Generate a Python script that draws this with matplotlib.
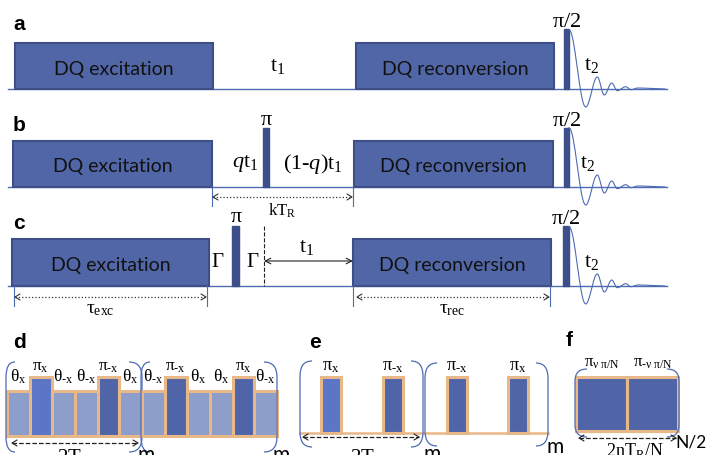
import matplotlib

matplotlib.use("Agg")
import matplotlib.pyplot as plt
import numpy as np
from matplotlib.patches import Rectangle, PathPatch
from matplotlib.path import Path

plt.rcParams["mathtext.fontset"] = "custom"
plt.rcParams["mathtext.rm"] = "Liberation Serif"
plt.rcParams["mathtext.it"] = "Liberation Serif:italic"
plt.rcParams["mathtext.bf"] = "Liberation Serif:bold"

BOX = "#5166a6"
BOX_EDGE = "#3d4f86"
PULSE = "#3c4f8c"
LINE = "#4d6bb3"
ORANGE = "#e8b888"
THETA = "#8c9ec9"
PI_X = "#5b76c6"
PI_MX = "#5065a8"

SANS = "Lato"

# rows a-c: baseline, block top, pulse top
row_names = ["a", "b", "c"]
row_base = [90, 188, 287]
row_top = [44, 142, 240]
row_pulse_top = [30, 129, 227]
exc_span = [(15, 213), (13, 212), (12, 209)]
rec_span = [(356, 554), (354, 553), (353, 551)]
read_span = [(564, 569), (564, 569), (563, 569)]
block_names = ["DQ excitation", "DQ reconversion"]

# FID extrema, offset from the read pulse edge / baseline
fid_dx = [0, 16.7, 28.3, 35.3, 42.7, 48.3, 56.7, 62, 69, 96]
fid_dy = [59.3, -18, 12, -6, 6, -1.7, 2.3, -0.7, 1, 0]

# panel d: two halves of the supercycle, (flip angle, phase)
d_halves = [
    [("θ", "x"), ("π", "x"), ("θ", "-x"), ("θ", "-x"), ("π", "-x"), ("θ", "x")],
    [("θ", "-x"), ("π", "-x"), ("θ", "x"), ("θ", "x"), ("π", "x"), ("θ", "-x")],
]
# panel e: pi-pulse trains
e_pulses = ["x", "-x", "-x", "x"]
# panel f: phase-shifted pi pulses
f_phases = [r"\nu\ \pi/N", r"\text{-}\nu\ \pi/N"]


def serif(ax, x, y, s, size=15, **kw):
    ax.text(x, y, s, fontsize=size, ha="center", va="center", **kw)


def phase_tex(sym, ph):
    ph = ph.replace("-", r"\text{-}")
    return r"$\mathrm{%s_{%s}}$" % (sym, ph)


def chevron(ax, x, y, direction, color, size=5, lw=0.8):
    ax.plot([x - direction * size, x, x - direction * size], [y - size * 0.6, y, y + size * 0.6],
            color=color, lw=lw, solid_capstyle="round")


def span_arrow(ax, x0, x1, y, ls=":", color="#333333", lw=0.9):
    ax.plot([x0, x1], [y, y], ls=ls, color=color, lw=lw)
    chevron(ax, x0, y, -1, color)
    chevron(ax, x1, y, 1, color)


def paren(ax, x, y0, y1, side, w=9, r=15):
    # rounded bracket, side=+1 opens right "(" , side=-1 opens left ")"
    verts = [(x + side * w, y0), (x, y0), (x, y0 + r), (x, y1 - r), (x, y1), (x + side * w, y1)]
    codes = [Path.MOVETO, Path.CURVE3, Path.CURVE3, Path.LINETO, Path.CURVE3, Path.CURVE3]
    ax.add_patch(PathPatch(Path(verts, codes), fill=False, edgecolor=LINE, lw=0.9))


def fid(ax, x0, base):
    xs, ys = [], []
    for i in range(len(fid_dx) - 1):
        s = np.linspace(0, 1, 20)
        xa, xb = x0 + fid_dx[i], x0 + fid_dx[i + 1]
        ya, yb = base - fid_dy[i], base - fid_dy[i + 1]
        xs.extend(xa + (xb - xa) * s)
        ys.extend(ya + (yb - ya) * (1 - np.cos(np.pi * s)) / 2)
    ax.plot(xs, ys, color=LINE, lw=0.8)


fig = plt.figure(figsize=(7.06, 4.56), dpi=100)
ax = fig.add_axes([0, 0, 1, 1])
ax.set_xlim(0, 706)
ax.set_ylim(456, 0)
ax.axis("off")

label_y = [24, 126, 224]
for i, name in enumerate(row_names):
    base, top = row_base[i], row_top[i]
    ax.plot([8, 667], [base, base], color=LINE, lw=1.0, zorder=1)
    for (x0, x1), text in zip([exc_span[i], rec_span[i]], block_names):
        ax.add_patch(Rectangle((x0, top), x1 - x0, base - top, facecolor=BOX,
                               edgecolor=BOX_EDGE, lw=1.5, zorder=2))
        ax.text((x0 + x1) / 2, (top + base) / 2 + 2, text, fontsize=14, family=SANS,
                ha="center", va="center", color="#111111", zorder=3)
    px0, px1 = read_span[i]
    ax.add_patch(Rectangle((px0, row_pulse_top[i]), px1 - px0, base - row_pulse_top[i],
                           facecolor=PULSE, edgecolor=BOX_EDGE, lw=1.0, zorder=2))
    serif(ax, (px0 + px1) / 2, row_pulse_top[i] - 9, r"$\mathrm{\pi/2}$", size=16)
    fid(ax, px1, base)
    ax.text(19, label_y[i], name, fontsize=15, fontweight="bold", family="Liberation Sans",
            ha="center", va="center")

t2_pos = [(592, 65), (588, 163), (592, 262)]
for x, y in t2_pos:
    serif(ax, x, y, r"$\mathrm{t_2}$", size=16)

# a: free evolution
serif(ax, 278, 66, r"$\mathrm{t_1}$", size=16)

# b: refocused evolution with a central pi pulse
ax.add_patch(Rectangle((263, 129), 6, 59, facecolor=PULSE, edgecolor=BOX_EDGE, lw=1.0, zorder=2))
serif(ax, 266, 119, r"$\mathrm{\pi}$", size=16)
serif(ax, 245, 164, r"$\mathit{q}\mathrm{t_1}$", size=16)
serif(ax, 313, 164, r"$\mathrm{(1\text{-}}\mathit{q}\mathrm{)t_1}$", size=16)
for x in (212, 353):
    ax.plot([x, x], [188, 207], color=LINE, lw=0.8)
span_arrow(ax, 213, 352, 198)
serif(ax, 282, 211, r"$\mathrm{kT_R}$", size=12)

# c: z-filter with gamma delays
ax.add_patch(Rectangle((232, 227), 7, 60, facecolor=PULSE, edgecolor=BOX_EDGE, lw=1.0, zorder=2))
serif(ax, 236, 216, r"$\mathrm{\pi}$", size=16)
serif(ax, 218, 261, r"$\mathrm{\Gamma}$", size=15)
serif(ax, 253, 261, r"$\mathrm{\Gamma}$", size=15)
ax.plot([264, 264], [227, 287], ls="--", color="#222222", lw=0.8)
ax.annotate("", xy=(353, 262), xytext=(264, 262),
            arrowprops=dict(arrowstyle="<->", color="#222222", lw=0.8, shrinkA=0, shrinkB=0))
serif(ax, 307, 247, r"$\mathrm{t_1}$", size=16)
for x in (14, 207, 353, 550):
    ax.plot([x, x], [287, 307], color=LINE, lw=0.8)
span_arrow(ax, 15, 206, 298)
span_arrow(ax, 357, 549, 298)
serif(ax, 100, 309, r"$\mathrm{\tau_{exc}}$", size=14)
serif(ax, 452, 309, r"$\mathrm{\tau_{rec}}$", size=14)

# d: symmetric R-type blocks
x = 7
for h, half in enumerate(d_halves):
    x_start = x
    for sym, ph in half:
        w = 21.5 if sym == "π" else 23
        if sym == "π":
            top = 378
            fc = PI_X if (h == 0 and ph == "x") else PI_MX
            ly = 366
        else:
            top = 392
            fc = THETA
            ly = 377
        ax.add_patch(Rectangle((x, top), w, 437 - top, facecolor=fc, edgecolor=ORANGE, lw=2.2))
        serif(ax, x + w / 2, ly, phase_tex(sym, ph), size=12.5)
        x += w
    paren(ax, x_start - 1, 363, 453, 1)
    paren(ax, x, 363, 453, -1, w=13)
    ax.text(x + 4, 455, "m", fontsize=15, family=SANS, ha="center", va="center")
span_arrow(ax, 12, 138, 444, ls="--", color="#222222")
serif(ax, 75, 458, r"$\mathrm{2T_R}$", size=15)

ax.text(20, 343, "d", fontsize=15, fontweight="bold", family="Liberation Sans", ha="center", va="center")
ax.text(315, 343, "e", fontsize=15, fontweight="bold", family="Liberation Sans", ha="center", va="center")
ax.text(569, 341, "f", fontsize=15, fontweight="bold", family="Liberation Sans", ha="center", va="center")

# e: pi pulse train
ax.plot([300, 548], [434, 434], color=ORANGE, lw=1.8, zorder=1)
e_x = [321, 383, 447, 508]
for i, (ph, x0) in enumerate(zip(e_pulses, e_x)):
    fc = PI_X if i == 0 else PI_MX
    ax.add_patch(Rectangle((x0, 378), 19.5, 56, facecolor=fc, edgecolor=ORANGE, lw=2.2, zorder=2))
    serif(ax, x0 + 10, 366, phase_tex(r"\pi", ph), size=13)
paren(ax, 300, 362, 448, 1, w=12)
paren(ax, 423, 362, 448, -1, w=12)
paren(ax, 425, 364, 447, 1, w=12)
paren(ax, 548, 364, 447, -1, w=12)
ax.text(432, 454, "m", fontsize=15, family=SANS, ha="center", va="center")
ax.text(555, 447, "m", fontsize=15, family=SANS, ha="center", va="center")
span_arrow(ax, 303, 419, 438, ls="--", color="#222222")
serif(ax, 368, 458, r"$\mathrm{2T_R}$", size=15)

# f: phase-alternated pi pulses
f_x = [576, 627]
for ph, x0 in zip(f_phases, f_x):
    ax.add_patch(Rectangle((x0, 378), 51, 54, facecolor=PI_MX, edgecolor=ORANGE, lw=2.2))
    serif(ax, x0 + 26, 362, r"$\mathrm{\pi_{%s}}$" % ph, size=12)
paren(ax, 575, 370, 438, 1, w=12, r=12)
paren(ax, 679, 370, 438, -1, w=12, r=12)
span_arrow(ax, 579, 676, 439, ls="--", color="#222222")
serif(ax, 635, 451, r"$\mathrm{2nT_R/N}$", size=13)
ax.text(691, 443, "N/2", fontsize=12.5, family=SANS, ha="center", va="center")

fig.savefig("out.png", dpi=100)
